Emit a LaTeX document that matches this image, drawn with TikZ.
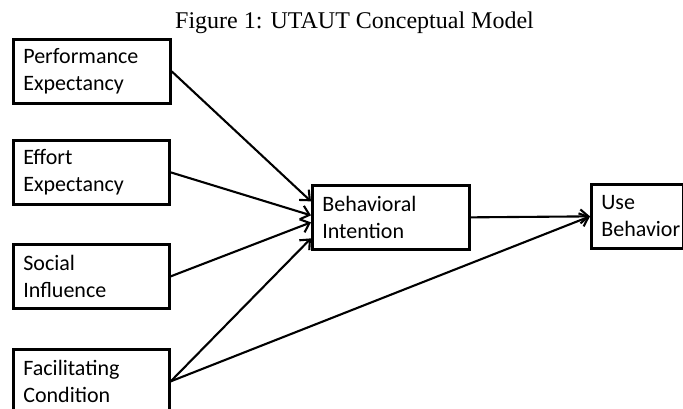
\documentclass[tikz,border=0pt]{standalone}
\usepackage{fontspec}
\setmainfont{Liberation Serif}
\newfontfamily\boxfont{Carlito}
\usetikzlibrary{arrows.meta}
\begin{document}
\begin{tikzpicture}[x=1pt,y=-1pt,
  cbox/.style={draw, line width=2.7pt, anchor=north west, inner xsep=10pt, inner ysep=0pt,
    align=left, minimum height=64pt, font=\boxfont\fontsize{22}{27}\selectfont},
  conn/.style={line width=2.1pt, -{Straight Barb[length=8pt,width=14pt,line width=2.1pt]}},
  ttl/.style={font=\fontsize{24}{28}\selectfont, anchor=base west, inner sep=0pt}]
\useasboundingbox (0,0) rectangle (683,408);
\node[ttl] (title) at (175,28) {Figure 1: UTAUT Conceptual Model};
\node[cbox, minimum width=157pt, text width=137pt] (pe) at (12,38) {Performance\\Expectancy};
\node[cbox, minimum width=156pt, text width=136pt] (ee) at (12,139) {Effort\\Expectancy};
\node[cbox, minimum width=156pt, text width=136pt] (si) at (12,243) {Social\\Influence};
\node[cbox, minimum width=156pt, text width=136pt] (fc) at (12,348) {Facilitating\\Condition};
\node[cbox, minimum width=157pt, text width=137pt] (bi) at (311,184) {Behavioral\\Intention};
\node[cbox, minimum width=92pt, text width=72pt] (ub) at (590,183) {Use\\Behavior};
\draw[conn] (pe.east) -- ([yshift=16pt]bi.west);
\draw[conn] (ee.east) -- ([yshift=2pt]bi.west);
\draw[conn] (si.east) -- ([yshift=-5pt]bi.west);
\draw[conn] (fc.east) -- ([yshift=-21pt]bi.west);
\draw[conn] (bi.east) -- (ub.west);
\draw[conn] (fc.east) -- (ub.west);
\end{tikzpicture}
\end{document}
